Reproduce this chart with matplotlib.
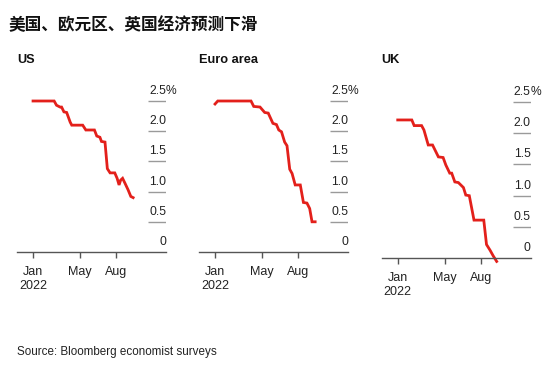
import pandas as pd
import matplotlib
matplotlib.use('Agg')
import matplotlib.pyplot as plt

plt.rcParams['font.family'] = ['Liberation Sans', 'DejaVu Sans']

# data (forecast, %)
us_dates = ['2022-01-01', '2022-02-24', '2022-03-02', '2022-03-11', '2022-03-15', '2022-03-21',
            '2022-03-28', '2022-04-06', '2022-04-10', '2022-05-08', '2022-05-16', '2022-06-07',
            '2022-06-13', '2022-06-21', '2022-06-25', '2022-07-04', '2022-07-10', '2022-07-17',
            '2022-07-29', '2022-08-04', '2022-08-09', '2022-08-13', '2022-08-18', '2022-08-24',
            '2022-09-01', '2022-09-08', '2022-09-14']
us_vals = [2.5, 2.5, 2.43, 2.4, 2.4, 2.32, 2.31, 2.15, 2.1, 2.1, 2.02, 2.02,
           1.92, 1.9, 1.83, 1.82, 1.38, 1.31, 1.31, 1.22, 1.11, 1.19, 1.22, 1.14,
           1.03, 0.92, 0.9]

euro_dates = ['2022-01-01', '2022-01-08', '2022-04-03', '2022-04-10', '2022-04-26', '2022-05-08',
              '2022-05-17', '2022-05-29', '2022-06-07', '2022-06-13', '2022-06-20', '2022-06-28',
              '2022-07-04', '2022-07-11', '2022-07-17', '2022-07-25', '2022-08-07', '2022-08-15',
              '2022-08-24', '2022-08-31', '2022-09-06', '2022-09-14']
euro_vals = [2.45, 2.5, 2.5, 2.41, 2.4, 2.31, 2.3, 2.13, 2.11, 2.02, 1.99, 1.82,
             1.76, 1.37, 1.3, 1.11, 1.11, 0.82, 0.81, 0.72, 0.5, 0.5]

uk_dates = ['2022-01-01', '2022-02-06', '2022-02-12', '2022-03-03', '2022-03-09', '2022-03-20',
            '2022-03-31', '2022-04-15', '2022-04-27', '2022-05-04', '2022-05-14', '2022-05-19',
            '2022-05-27', '2022-06-05', '2022-06-18', '2022-06-24', '2022-07-03', '2022-07-15',
            '2022-08-09', '2022-08-16', '2022-08-25', '2022-09-02', '2022-09-11']
uk_vals = [2.21, 2.21, 2.12, 2.12, 2.05, 1.81, 1.81, 1.62, 1.61, 1.49, 1.36, 1.36,
           1.22, 1.21, 1.13, 1.01, 1.0, 0.61, 0.61, 0.22, 0.13, 0.04, -0.05]

panel_names = ['US', 'Euro area', 'UK']
y_ticks = [0.5, 1.0, 1.5, 2.0, 2.5]
x_ticks = ['2022-01-01', '2022-05-01', '2022-08-01']
x_labels = ['Jan\n2022', 'May', 'Aug']

W, H = 554, 368
fig = plt.figure(figsize=(W / 100, H / 100), dpi=100)

red = '#e3201b'
grey = '#9a9a9a'
dark = '#222222'

# axes boxes in pixels: left, axis-line y, px per 1%
boxes = [(17, 252, 60.4), (199, 252, 60.4), (381.7, 258.3, 62.6)]
series = [(us_dates, us_vals), (euro_dates, euro_vals), (uk_dates, uk_vals)]

jan1 = pd.Timestamp('2022-01-01')
xmin = jan1 - pd.Timedelta(days=41)
xmax = jan1 + pd.Timedelta(days=340)
ytop = 2.7

for name, (left, base, ppu), (dates, vals) in zip(panel_names, boxes, series):
    ax = fig.add_axes([left / W, (H - base) / H, 149 / W, ytop * ppu / H])
    ax.plot(pd.to_datetime(dates), vals, color=red, lw=2.0, clip_on=False,
            solid_joinstyle='miter')
    ax.set_xlim(xmin, xmax)
    ax.set_ylim(0, ytop)

    for s in ['top', 'left', 'right']:
        ax.spines[s].set_visible(False)
    ax.spines['bottom'].set_color('#555555')
    ax.spines['bottom'].set_linewidth(1)
    ax.set_yticks([])
    ax.set_xticks(pd.to_datetime(x_ticks))
    ax.set_xticklabels(x_labels, fontsize=9, color=dark, linespacing=1.2)
    ax.tick_params(axis='x', length=4.5, width=1, color='#555555', pad=5.5)

    tr = ax.get_yaxis_transform()
    ax.hlines(y_ticks, 0.879, 1.0, transform=tr, color=grey, lw=1)
    for v in [0] + y_ticks:
        lab = '0' if v == 0 else f'{v:.1f}'
        ax.annotate(lab, xy=(1.0, v), xycoords=tr, xytext=(0, 5), textcoords='offset points',
                    ha='right', va='baseline', fontsize=8.7, color=dark)
    ax.annotate('%', xy=(1.0, 2.5), xycoords=tr, xytext=(0, 5), textcoords='offset points',
                ha='left', va='baseline', fontsize=8.7, color=dark)

    fig.text(left / W, 1 - 60 / H, name, fontsize=9.2, fontweight='bold', color='#111111',
             va='center', ha='left')

fig.text(9 / W, 1 - 25 / H, '美国、欧元区、英国经济预测下滑', fontsize=12, fontweight='bold',
         family=['Noto Sans CJK SC', 'DejaVu Sans'], color='#111111', va='center', ha='left')
fig.text(17 / W, 1 - 352 / H, 'Source: Bloomberg economist surveys', fontsize=8.4,
         color=dark, va='center', ha='left')

fig.savefig('out.png', dpi=100)
